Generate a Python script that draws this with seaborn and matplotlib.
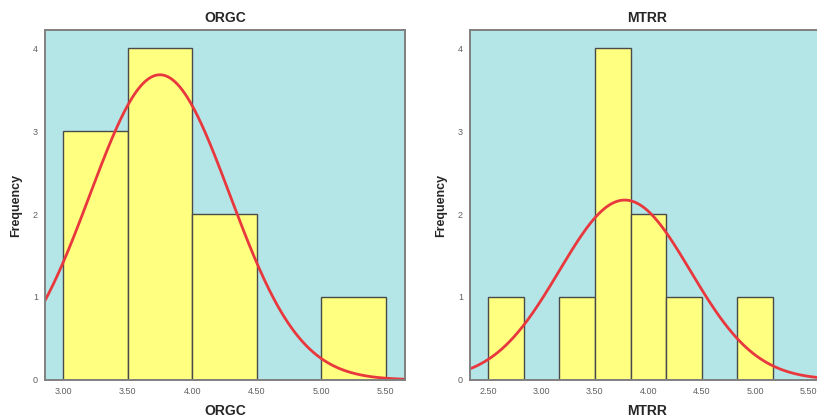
import numpy as np
import pandas as pd
import matplotlib
matplotlib.use("Agg")
import matplotlib.pyplot as plt
import seaborn as sns

# =====================================================
# DATA
# =====================================================

orgc_edges = [3.0, 3.5, 4.0, 4.5, 5.0, 5.5]
orgc_counts = [3, 4, 2, 0, 1]
orgc_mean = 3.75
orgc_sd = 0.542

mtrr_edges = [2.5, 2.8333, 3.1667, 3.5, 3.8333, 4.1667, 4.5, 4.8333, 5.1667]
mtrr_counts = [1, 0, 1, 4, 2, 1, 0, 1]
mtrr_mean = 3.78
mtrr_sd = 0.613

orgc_ticks = [3.0, 3.5, 4.0, 4.5, 5.0, 5.5]
mtrr_ticks = [2.5, 3.0, 3.5, 4.0, 4.5, 5.0, 5.5]
y_ticks = [0, 1, 2, 3, 4]

BG = "#B4E6E8"
BAR = "#FFFF80"
EDGE = "#4A4A4A"
CURVE = "#E8383D"
FRAME = "#808080"

sns.set_style("white")
plt.rcParams["font.family"] = ["Liberation Sans", "DejaVu Sans"]

fig = plt.figure(figsize=(8.17, 4.17), dpi=100)
ax1 = fig.add_axes([0.055, 0.089, 0.441, 0.839])
ax2 = fig.add_axes([0.575, 0.089, 0.4345, 0.839])


def draw_panel(ax, name, edges, counts, mean, sd, ticks, xlim):
    centers = [(a + b) / 2 for a, b in zip(edges[:-1], edges[1:])]
    df = pd.DataFrame({"x": centers, "w": counts})
    sns.histplot(
        data=df, x="x", weights="w", bins=edges, ax=ax,
        color=BAR, edgecolor=EDGE, linewidth=1.0, alpha=1.0
    )
    width = edges[1] - edges[0]
    n = sum(counts)
    xs = np.linspace(xlim[0], xlim[1], 300)
    ys = n * width / (sd * np.sqrt(2 * np.pi)) * np.exp(-0.5 * ((xs - mean) / sd) ** 2)
    sns.lineplot(x=xs, y=ys, ax=ax, color=CURVE, linewidth=2.0)

    ax.set_facecolor(BG)
    ax.set_xlim(*xlim)
    ax.set_ylim(0, 4.22)
    ax.set_xticks(ticks)
    ax.set_xticklabels(["%.2f" % t for t in ticks])
    ax.set_yticks(y_ticks)
    ax.tick_params(axis="both", labelsize=6.5, colors="#606060",
                   direction="out", length=3, width=0.8, pad=2)
    for s in ax.spines.values():
        s.set_color(FRAME)
        s.set_linewidth(1.4)
    ax.set_title(name, fontsize=10, fontweight="bold", pad=6)
    ax.set_xlabel(name, fontsize=10, fontweight="bold", labelpad=6)
    ax.set_ylabel("Frequency", fontsize=9, fontweight="bold", labelpad=8)


draw_panel(ax1, "ORGC", orgc_edges, orgc_counts, orgc_mean, orgc_sd,
           orgc_ticks, (2.86, 5.65))
draw_panel(ax2, "MTRR", mtrr_edges, mtrr_counts, mtrr_mean, mtrr_sd,
           mtrr_ticks, (2.33, 5.65))

fig.savefig("out.png", dpi=100)
